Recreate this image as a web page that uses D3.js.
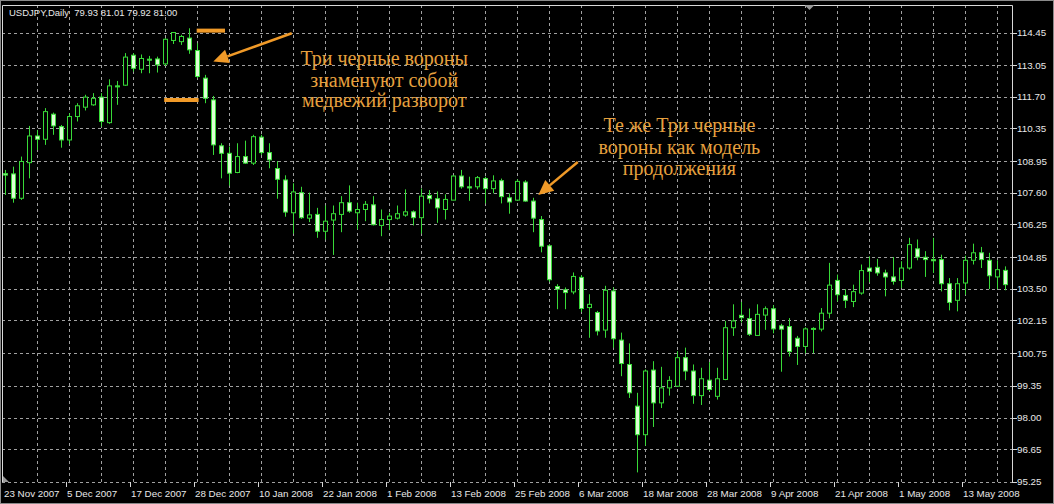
<!DOCTYPE html>
<html><head><meta charset="utf-8">
<script src="https://cdn.jsdelivr.net/npm/d3@7"></script>
<style>html,body{margin:0;padding:0;background:#000;}svg{display:block;}</style>
</head><body>
<svg id="chart" width="1054" height="504"></svg>
<script>
// ---- data (USDJPY daily) ----
const opens = [108.42,108.41,107.37,108.89,110.03,109.89,110.96,110.43,109.86,110.86,111.26,111.36,111.69,110.60,112.17,112.20,113.48,112.88,113.31,113.32,113.11,114.11,114.06,114.21,113.68,112.50,111.57,109.61,109.29,108.47,109.15,108.87,109.98,109.32,108.64,108.15,106.75,107.61,106.52,106.68,105.96,106.44,106.68,107.18,106.75,106.89,107.09,106.21,106.46,106.52,106.65,106.79,106.54,107.49,107.35,106.89,107.29,108.32,107.86,107.86,108.21,107.78,108.12,107.39,107.29,108.06,107.25,106.46,105.34,103.60,103.46,103.37,103.99,102.70,102.49,101.74,103.41,101.31,100.27,98.49,97.27,100.03,98.63,99.27,99.34,100.56,99.99,98.94,99.60,98.91,99.63,101.84,102.37,102.23,101.51,102.38,102.65,101.92,101.89,101.39,101.04,101.79,101.78,102.46,103.86,103.22,102.96,103.32,104.39,104.42,104.18,104.01,103.86,104.39,105.21,104.85,104.75,104.75,103.72,103.01,103.75,104.72,105.04,104.72,104.01,104.29];
const highs = [108.58,108.72,109.15,110.46,110.29,111.22,111.03,110.50,111.00,111.43,111.79,111.86,111.86,112.45,112.38,113.57,113.57,113.51,113.45,113.42,114.21,114.47,114.35,114.63,113.99,112.64,111.74,109.72,109.58,109.72,109.83,110.08,110.08,109.72,108.96,108.35,108.01,107.86,107.61,106.96,107.06,107.06,107.46,107.92,107.18,107.25,107.46,106.89,106.75,107.06,107.75,106.85,107.79,107.72,107.66,107.54,108.35,108.58,108.29,108.32,108.29,108.35,108.21,107.58,108.18,108.14,107.39,106.61,105.41,103.70,103.56,104.20,104.09,103.27,102.56,103.63,103.56,101.63,101.17,99.06,100.06,100.41,100.17,99.77,100.84,100.99,100.27,100.13,100.37,100.13,102.13,102.84,102.94,102.66,102.84,102.75,102.80,102.01,102.25,101.49,101.86,101.86,102.68,104.61,104.11,103.49,103.68,104.54,104.89,104.78,104.32,104.86,104.68,105.68,105.61,105.11,105.68,104.96,103.96,103.96,104.92,105.43,105.29,105.04,104.72,104.46];
const lows = [107.51,107.18,107.30,108.22,109.43,109.65,110.08,109.53,109.69,110.65,111.12,111.32,110.43,110.55,111.36,112.17,112.78,112.71,112.71,112.74,113.02,113.96,113.92,113.54,112.50,111.43,109.22,108.22,107.91,108.44,108.84,108.79,109.22,108.65,107.35,106.58,105.86,106.49,106.35,105.68,105.61,104.95,105.92,106.75,106.04,106.39,106.21,105.75,106.01,106.46,106.58,106.21,105.86,107.15,106.32,106.46,107.29,107.78,107.26,107.75,107.15,107.58,107.15,106.71,107.26,107.22,105.92,105.06,103.80,102.63,102.63,103.27,102.51,101.41,101.51,101.41,100.99,99.77,98.84,95.66,96.80,97.60,98.41,98.94,99.31,99.60,98.59,98.54,99.13,98.77,99.60,101.49,102.06,101.49,101.49,101.75,101.60,99.96,100.61,100.25,100.75,100.75,101.68,102.24,102.96,102.68,102.72,103.25,103.78,104.06,103.18,103.68,103.54,104.32,104.72,104.01,104.18,103.39,102.58,102.54,103.25,104.54,104.39,103.49,103.49,103.44];
const closes = [108.36,107.37,108.94,110.03,109.89,111.07,110.46,109.86,110.86,111.32,111.69,111.64,110.65,112.17,112.14,113.40,112.92,113.34,113.30,113.07,114.16,114.45,114.28,113.71,112.57,111.64,109.65,109.29,108.44,109.15,108.87,110.00,109.32,109.01,108.18,106.78,107.64,106.54,106.66,105.96,106.39,106.71,107.18,106.82,106.89,107.11,106.24,106.46,106.61,106.71,106.79,106.54,107.46,107.35,106.96,107.32,108.32,107.86,107.81,108.25,107.78,108.11,107.44,107.21,108.09,107.25,106.52,105.32,103.89,103.49,103.34,104.03,102.66,102.84,101.70,103.44,101.37,100.31,99.06,97.27,99.99,98.63,99.27,99.59,100.56,99.99,98.94,99.66,99.20,99.66,101.84,102.13,102.27,101.56,102.41,102.65,101.79,101.78,100.82,101.04,101.79,101.81,102.46,103.66,103.25,103.01,103.38,104.28,104.25,104.18,104.01,103.82,104.39,105.39,104.86,104.75,104.70,103.72,102.92,103.72,104.72,105.04,104.75,104.06,104.32,103.68];

const priceTicks = [114.45,113.05,111.70,110.35,108.95,107.60,106.25,104.85,103.50,102.15,100.75,99.35,98.00,96.65,95.25];
const dateTickIndex = [0,8,16,24,32,40,48,56,64,72,80,88,96,104,112,120];
const dateTickLabels = ["23 Nov 2007","5 Dec 2007","17 Dec 2007","28 Dec 2007","10 Jan 2008","22 Jan 2008","1 Feb 2008","13 Feb 2008","25 Feb 2008","6 Mar 2008","18 Mar 2008","28 Mar 2008","9 Apr 2008","21 Apr 2008","1 May 2008","13 May 2008"];
const headerText = "USDJPY,Daily  79.93 81.01 79.92 81.00";

// annotations in data space (bar index, price)
const note1Lines = ["Три черные вороны","знаменуют собой","медвежий разворот"];
const note1Pos = [{i:47.4,p:113.36},{i:47.4,p:112.40},{i:47.4,p:111.55}];
const note2Lines = ["Те же Три черные","вороны как модель","продолжения"];
const note2Pos = [{i:84.3,p:110.50},{i:84.3,p:109.56},{i:84.3,p:108.66}];
const markBars = [{i0:23.96,i1:27.5,p:114.53},{i0:19.9,i1:24.2,p:111.57}];
const arrows = [{fromI:35.84,fromP:114.42,toI:26.04,toP:113.21},{fromI:71.6,fromP:108.92,toI:66.66,toP:107.51}];

// ---- drawing ----
const svg = d3.select("#chart");
const W = 1054, H = 504;
const plotL = 2, plotR = 1012, plotT = 5, plotB = 482;
const x = d3.scaleLinear().domain([0, opens.length - 1]).range([5, 1005]);
const y = d3.scaleLinear().domain([95.25, 114.45]).range([482, 32.5]);
const gridCol = "#a0a0a0", candleCol = "#38da38", bearFill = "#dcffd4", orange = "#f09a28", textOrange = "#e6a03e";
const px = v => Math.round(v) + 0.5;

svg.append("rect").attr("width", W).attr("height", H).attr("fill", "#000");

// grid
const grid = svg.append("g").attr("stroke", gridCol).attr("stroke-width", 1).attr("stroke-dasharray", "3,3");
grid.selectAll("line.h").data(priceTicks).join("line")
  .attr("x1", plotL).attr("x2", plotR).attr("y1", d => px(y(d))).attr("y2", d => px(y(d)));
const vIdx = d3.range(4, opens.length, 4);
grid.selectAll("line.v").data(vIdx).join("line")
  .attr("x1", d => px(x(d))).attr("x2", d => px(x(d))).attr("y1", plotT).attr("y2", plotB);

// frame
svg.append("path").attr("d", `M${plotL+0.5},${plotB}V${plotT+0.5}H${plotR+0.5}V${plotB}`)
  .attr("fill", "none").attr("stroke", "#d8d8d8").attr("stroke-width", 1);
svg.append("rect").attr("x", 0.5).attr("y", 0.5).attr("width", W-1).attr("height", H-1)
  .attr("fill", "none").attr("stroke", "#8a8a8a");

// small grey markers
svg.append("path").attr("d", `M${px(x(100.5))-5},${plotT}L${px(x(100.5))+5},${plotT}L${px(x(100.5))},${plotT+5}Z`).attr("fill", "#9a9a9a");
svg.append("path").attr("d", `M3,${plotB-6}L3,${plotB}L9,${plotB}Z`).attr("fill", "#9a9a9a");

// candles
const idx = d3.range(opens.length);
const cg = svg.append("g");
cg.selectAll("line.w").data(idx).join("line")
  .attr("x1", i => px(x(i))).attr("x2", i => px(x(i)))
  .attr("y1", i => y(highs[i])).attr("y2", i => y(lows[i]))
  .attr("stroke", candleCol).attr("stroke-width", 1);
cg.selectAll("rect.b").data(idx).join("rect")
  .attr("x", i => px(x(i)) - 2).attr("width", 4)
  .attr("y", i => Math.min(y(opens[i]), y(closes[i])))
  .attr("height", i => Math.max(1, Math.abs(y(opens[i]) - y(closes[i]))))
  .attr("fill", i => closes[i] < opens[i] ? bearFill : "#000")
  .attr("stroke", candleCol).attr("stroke-width", 1);

// right axis
const ra = svg.append("g");
ra.selectAll("line").data(priceTicks).join("line")
  .attr("x1", plotR).attr("x2", plotR + 5).attr("y1", d => px(y(d))).attr("y2", d => px(y(d)))
  .attr("stroke", "#d8d8d8");
ra.selectAll("text").data(priceTicks).join("text")
  .attr("x", plotR + 5).attr("y", d => y(d)).attr("dy", "0.35em")
  .attr("fill", "#e8e8e8").attr("font-family", "Liberation Sans, Arial, sans-serif").attr("font-size", 9.8)
  .text(d => d.toFixed(2));

// bottom axis
const ba = svg.append("g");
ba.selectAll("line").data(dateTickIndex.slice(1)).join("line")
  .attr("x1", i => px(x(i)) - 3).attr("x2", i => px(x(i)) - 3).attr("y1", plotB).attr("y2", plotB + 5)
  .attr("stroke", "#d8d8d8");
ba.selectAll("text").data(dateTickIndex).join("text")
  .attr("x", (i, k) => k === 0 ? 4 : x(i) - 2).attr("y", 494).attr("dy", "0.35em")
  .attr("fill", "#e8e8e8").attr("font-family", "Liberation Sans, Arial, sans-serif").attr("font-size", 9.8)
  .text((i, k) => dateTickLabels[k]);

// header
svg.append("text").attr("x", 9).attr("y", 13).attr("dy", "0.35em")
  .attr("fill", "#e8e8e8").attr("font-family", "Liberation Sans, Arial, sans-serif").attr("font-size", 9.5)
  .attr("xml:space", "preserve").style("white-space", "pre").text(headerText);

// annotations
const ag = svg.append("g");
ag.selectAll("line.mb").data(markBars).join("line")
  .attr("x1", d => x(d.i0)).attr("x2", d => x(d.i1)).attr("y1", d => y(d.p)).attr("y2", d => y(d.p))
  .attr("stroke", orange).attr("stroke-width", 4);
arrows.forEach(a => {
  const x1 = x(a.fromI), y1 = y(a.fromP), x2 = x(a.toI), y2 = y(a.toP);
  const ang = Math.atan2(y2 - y1, x2 - x1);
  const hl = 15, hw = 7;
  const bx = x2 - hl * Math.cos(ang), by = y2 - hl * Math.sin(ang);
  ag.append("line").attr("x1", x1).attr("y1", y1).attr("x2", bx).attr("y2", by)
    .attr("stroke", orange).attr("stroke-width", 2.5);
  ag.append("path").attr("d", `M${x2},${y2}L${bx + hw*Math.sin(ang)},${by - hw*Math.cos(ang)}L${bx - hw*Math.sin(ang)},${by + hw*Math.cos(ang)}Z`)
    .attr("fill", orange);
});
function notes(lines, pos) {
  ag.selectAll(null).data(lines).join("text")
    .attr("x", (d, k) => x(pos[k].i)).attr("y", (d, k) => y(pos[k].p)).attr("dy", "0.35em")
    .attr("text-anchor", "middle").attr("fill", textOrange)
    .attr("font-family", "Liberation Serif, Times New Roman, serif").attr("font-size", 20)
    .text(d => d);
}
notes(note1Lines, note1Pos);
notes(note2Lines, note2Pos);
</script>
</body></html>
